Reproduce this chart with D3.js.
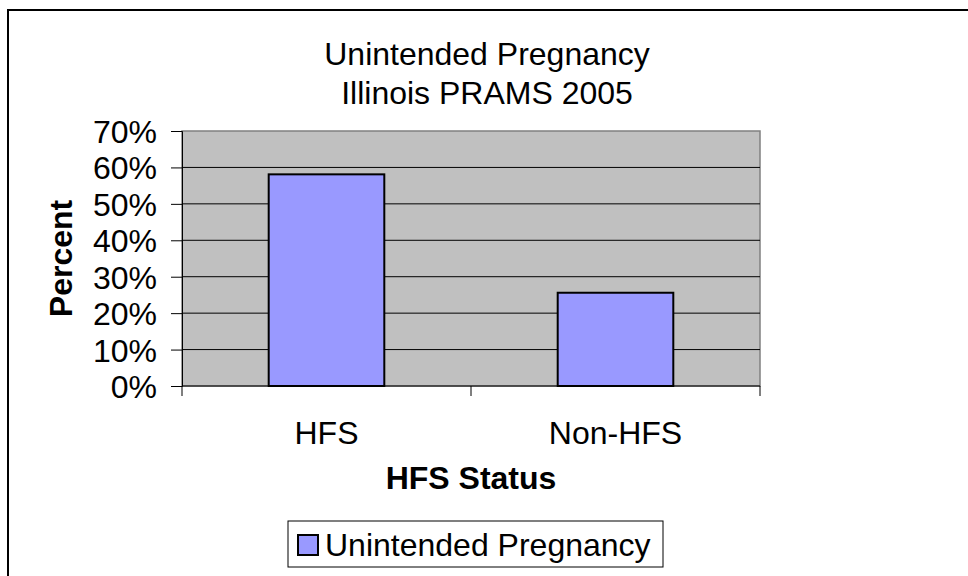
<!DOCTYPE html>
<html lang="en">
<head>
<meta charset="UTF-8" />
<script src="https://d3js.org/d3.v7.min.js"></script>
<title>Unintended Pregnancy</title>
<style>
  body { margin: 0; background: #fff; }
  text { font-family: "Liberation Sans", Arial, sans-serif; fill: #000; }
</style>
</head>
<body>
<script>
  // data
  var categories = ["HFS", "Non-HFS"];
  var values = [0.581, 0.256];
  var yTicks = [0, 0.1, 0.2, 0.3, 0.4, 0.5, 0.6, 0.7];
  var seriesName = "Unintended Pregnancy";

  var width = 968, height = 576;
  var plot = { left: 182, right: 760, top: 131, bottom: 386 };
  var fs = 32;

  var svg = d3.select("body").append("svg")
    .attr("width", width).attr("height", height);

  // outer chart frame (runs off the right and bottom)
  svg.append("rect")
    .attr("x", 8).attr("y", 10)
    .attr("width", 980).attr("height", 600)
    .attr("fill", "#fff").attr("stroke", "#000").attr("stroke-width", 2);

  var x = d3.scaleBand().domain(categories)
    .range([plot.left, plot.right]).paddingInner(0.6).paddingOuter(0.3);
  var y = d3.scaleLinear().domain([0, 0.7]).range([plot.bottom, plot.top]);

  // plot background
  svg.append("rect")
    .attr("x", plot.left).attr("y", plot.top)
    .attr("width", plot.right - plot.left).attr("height", plot.bottom - plot.top)
    .attr("fill", "#c0c0c0").attr("stroke", "#808080").attr("stroke-width", 1.5);

  // gridlines
  svg.append("g").selectAll("line").data(yTicks.slice(1, -1)).enter().append("line")
    .attr("x1", plot.left).attr("x2", plot.right)
    .attr("y1", d => y(d)).attr("y2", d => y(d))
    .attr("stroke", "#000").attr("stroke-width", 1);

  // y axis
  var yAxis = d3.axisLeft(y).tickValues(yTicks).tickFormat(d3.format(".0%"))
    .tickSize(11).tickPadding(14);
  var yg = svg.append("g").attr("transform", "translate(" + plot.left + ",0)").call(yAxis);
  yg.select(".domain").attr("stroke", "#000");
  yg.selectAll(".tick line").attr("stroke", "#000");
  yg.selectAll(".tick text").attr("font-size", fs).attr("font-family", "Liberation Sans, Arial, sans-serif")
    .attr("fill", "#000").attr("dy", "0.36em");

  // x axis: category boundary ticks
  var xBounds = [plot.left, (plot.left + plot.right) / 2, plot.right];
  svg.append("line").attr("x1", plot.left).attr("x2", plot.right)
    .attr("y1", plot.bottom).attr("y2", plot.bottom).attr("stroke", "#000");
  svg.append("g").selectAll("line").data(xBounds).enter().append("line")
    .attr("x1", d => d).attr("x2", d => d)
    .attr("y1", plot.bottom).attr("y2", plot.bottom + 10)
    .attr("stroke", "#000");

  svg.append("g").selectAll("text").data(categories).enter().append("text")
    .attr("x", d => x(d) + x.bandwidth() / 2).attr("y", 444)
    .attr("text-anchor", "middle").attr("font-size", fs)
    .text(d => d);

  // bars
  svg.append("g").selectAll("rect").data(values).enter().append("rect")
    .attr("x", (d, i) => x(categories[i]))
    .attr("y", d => y(d))
    .attr("width", x.bandwidth())
    .attr("height", d => y(0) - y(d))
    .attr("fill", "#9999ff").attr("stroke", "#000").attr("stroke-width", 2);

  // titles
  svg.append("text").attr("x", 487).attr("y", 65).attr("text-anchor", "middle")
    .attr("font-size", fs).text("Unintended Pregnancy");
  svg.append("text").attr("x", 487).attr("y", 104).attr("text-anchor", "middle")
    .attr("font-size", fs).text("Illinois PRAMS 2005");

  svg.append("text").attr("transform", "translate(72," + ((plot.top + plot.bottom) / 2) + ") rotate(-90)")
    .attr("text-anchor", "middle").attr("font-size", fs).attr("font-weight", "bold")
    .text("Percent");

  svg.append("text").attr("x", (plot.left + plot.right) / 2).attr("y", 489)
    .attr("text-anchor", "middle").attr("font-size", fs).attr("font-weight", "bold")
    .text("HFS Status");

  // legend
  var lg = svg.append("g");
  lg.append("rect").attr("x", 288).attr("y", 521).attr("width", 375).attr("height", 46)
    .attr("fill", "#fff").attr("stroke", "#000").attr("stroke-width", 1);
  lg.append("rect").attr("x", 298).attr("y", 535).attr("width", 20).attr("height", 20)
    .attr("fill", "#9999ff").attr("stroke", "#000").attr("stroke-width", 2);
  lg.append("text").attr("x", 325).attr("y", 556).attr("font-size", fs).text(seriesName);
</script>
</body>
</html>
